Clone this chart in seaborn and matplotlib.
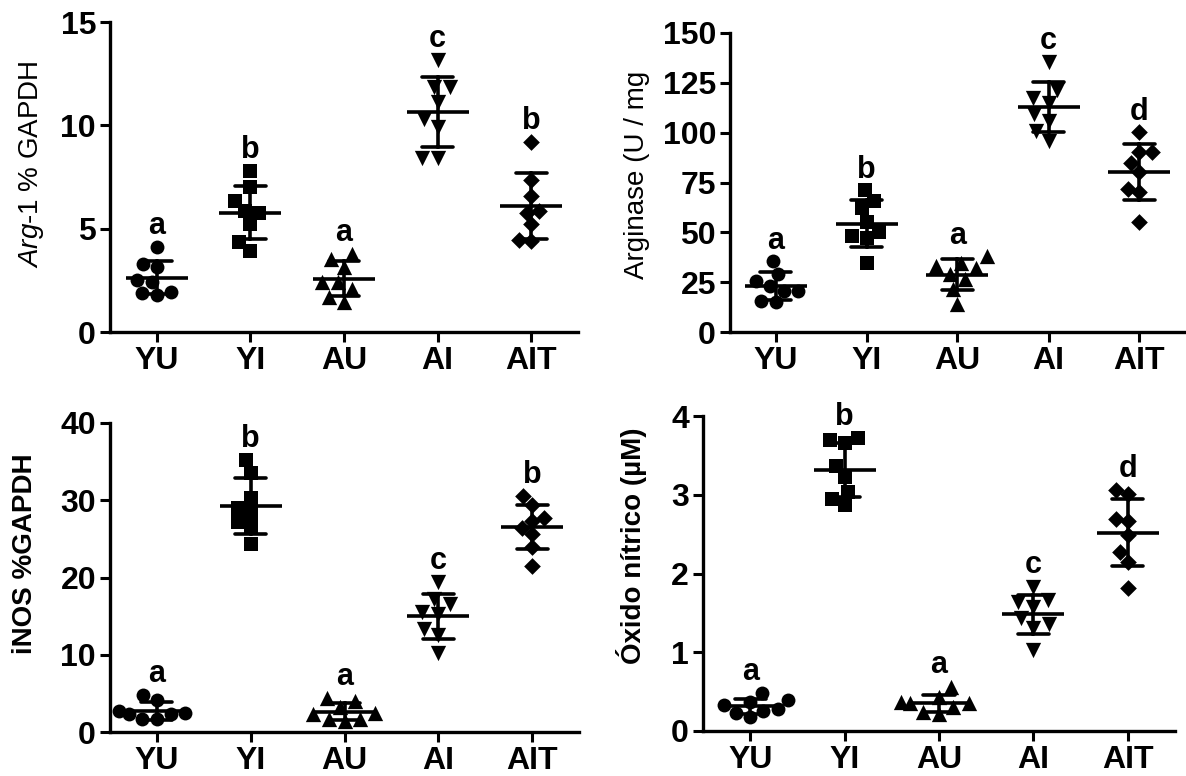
import numpy as np
import pandas as pd
import matplotlib
matplotlib.use("Agg")
import matplotlib.pyplot as plt
import seaborn as sns

groups = ["YU", "YI", "AU", "AI", "AIT"]
markers = ["o", "s", "^", "v", "D"]

arg1_values = [
    [4.1, 3.3, 3.14, 2.5, 2.43, 1.87, 1.79, 1.95],
    [7.77, 7.0, 6.34, 5.75, 5.86, 5.22, 4.34, 3.94],
    [3.54, 3.78, 3.14, 2.43, 2.43, 2.1, 1.47, 1.71],
    [13.17, 11.84, 11.84, 11.12, 10.33, 9.93, 8.41, 8.41],
    [9.21, 7.37, 6.58, 5.86, 5.78, 5.25, 4.42, 4.45],
]
arginase_values = [
    [35.6, 23.2, 25.6, 29.0, 20.7, 20.7, 14.9, 15.7],
    [71.1, 65.8, 62.0, 55.4, 50.4, 48.0, 47.1, 34.7],
    [34.7, 38.0, 33.0, 32.3, 26.5, 29.0, 21.5, 14.1],
    [135.6, 121.6, 115.0, 117.4, 109.2, 105.9, 100.9, 95.9],
    [100.1, 90.1, 90.1, 84.7, 80.2, 71.6, 70.0, 55.4],
]
inos_values = [
    [4.83, 4.19, 2.7, 2.27, 2.35, 1.63, 1.63, 2.4],
    [35.2, 33.5, 30.3, 29.0, 28.2, 27.2, 26.4, 24.3],
    [4.4, 4.0, 3.3, 2.27, 2.5, 1.63, 1.63, 1.4],
    [19.4, 17.2, 16.6, 15.5, 15.3, 13.3, 12.5, 10.2],
    [30.5, 29.4, 27.3, 27.7, 26.4, 25.6, 23.9, 21.5],
]
no_values = [
    [0.48, 0.37, 0.39, 0.26, 0.23, 0.28, 0.33, 0.18],
    [3.72, 3.69, 3.66, 3.36, 3.22, 3.04, 2.95, 2.87],
    [0.56, 0.43, 0.37, 0.35, 0.35, 0.31, 0.24, 0.22],
    [1.83, 1.66, 1.64, 1.58, 1.43, 1.31, 1.36, 1.03],
    [3.01, 3.06, 2.69, 2.67, 2.49, 2.27, 2.15, 1.82],
]

arg1_letters = ["a", "b", "a", "c", "b"]
arginase_letters = ["a", "b", "a", "c", "d"]
inos_letters = ["a", "b", "a", "c", "b"]
no_letters = ["a", "b", "a", "c", "d"]

arg1_ticks = [0, 5, 10, 15]
arginase_ticks = [0, 25, 50, 75, 100, 125, 150]
inos_ticks = [0, 10, 20, 30, 40]
no_ticks = [0, 1, 2, 3, 4]

arg1_label = r"$\it{Arg}$-$\it{1}$ % GAPDH"
arginase_label = "Arginase (U / mg"
inos_label = "iNOS %GAPDH"
no_label = "Óxido nítrico (µM)"

sns.set_style("ticks")
plt.rcParams["font.family"] = ["Liberation Sans", "DejaVu Sans"]
plt.rcParams["mathtext.fontset"] = "custom"
plt.rcParams["mathtext.it"] = "Liberation Sans:italic"
plt.rcParams["mathtext.rm"] = "Liberation Sans"
for k in ["text.color", "axes.labelcolor", "xtick.color", "ytick.color",
          "axes.edgecolor", "xtick.labelcolor", "ytick.labelcolor"]:
    plt.rcParams[k] = "black"

W, H = 1186, 776
fig = plt.figure(figsize=(W / 100, H / 100), dpi=100)


def px_axes(x0, x1, ytop, ybot):
    return fig.add_axes([x0 / W, 1 - ybot / H, (x1 - x0) / W, (ybot - ytop) / H])


panels = [
    (px_axes(110, 578, 22, 332), arg1_values, arg1_letters, arg1_ticks, arg1_label, "normal", (-0.137, 0.54)),
    (px_axes(730, 1185, 33, 332), arginase_values, arginase_letters, arginase_ticks, arginase_label, "normal", (-0.176, 0.525)),
    (px_axes(110, 579, 423, 732), inos_values, inos_letters, inos_ticks, inos_label, "bold", (-0.154, 0.576)),
    (px_axes(703, 1175, 416, 731), no_values, no_letters, no_ticks, no_label, "bold", (-0.119, 0.587)),
]

for ax, values, letters, ticks, label, lweight, lpos in panels:
    df = pd.DataFrame({
        "group": np.repeat(groups, [len(v) for v in values]),
        "value": np.concatenate(values),
    })
    for g, m in zip(groups, markers):
        sub = df[df["group"] == g]
        size = 10 if m in ("o", "s") else (8.5 if m == "D" else 11)
        sns.swarmplot(data=sub, x="group", y="value", order=groups, marker=m,
                      color="black", size=size, linewidth=0, ax=ax, zorder=3)
    sns.pointplot(data=df, x="group", y="value", order=groups, errorbar="sd",
                  capsize=0.33, color="black", linestyle="none", marker="_",
                  markersize=44, markeredgewidth=2.6,
                  err_kws={"linewidth": 2.6}, ax=ax, zorder=4)
    ymax = ticks[-1]
    for i, (g, letter) in enumerate(zip(groups, letters)):
        top = max(values[i])
        ax.text(i, top + 0.068 * ymax, letter, ha="center", va="center",
                fontsize=22, fontweight="bold", color="black")
    ax.set_ylim(0, ymax)
    ax.set_xlim(-0.5, 4.5)
    ax.set_yticks(ticks)
    ax.set_yticklabels([str(t) for t in ticks])
    ax.set_xlabel("")
    ax.set_ylabel(label, fontsize=20, fontweight=lweight, color="black")
    ax.yaxis.set_label_coords(*lpos)
    for s in ["top", "right"]:
        ax.spines[s].set_visible(False)
    for s in ["left", "bottom"]:
        ax.spines[s].set_linewidth(2.4)
        ax.spines[s].set_color("black")
    ax.tick_params(axis="both", length=7, width=2.2, labelsize=23, pad=3,
                   colors="black")
    for t in ax.get_xticklabels() + ax.get_yticklabels():
        t.set_fontweight("bold")

fig.savefig("out.png", dpi=100)
